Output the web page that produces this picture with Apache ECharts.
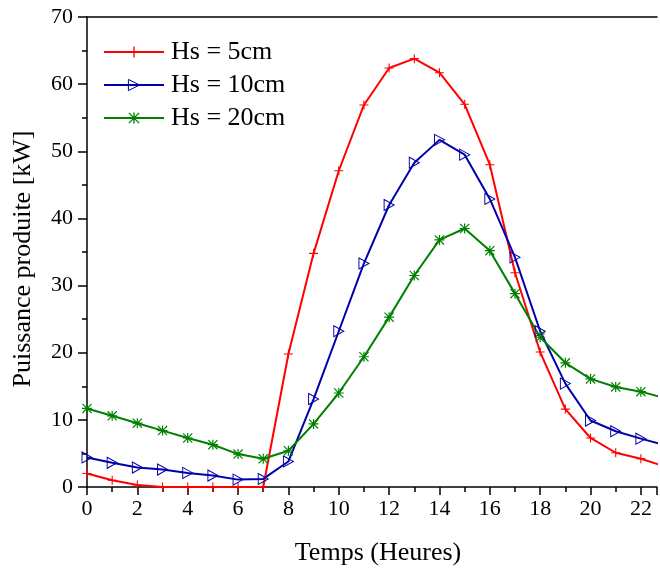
<!DOCTYPE html>
<html>
<head>
<meta charset="utf-8">
<script src="https://cdn.jsdelivr.net/npm/echarts@6/dist/echarts.min.js"></script>
<style>
  html, body { margin: 0; padding: 0; background: #fff; }
  #chart { width: 660px; height: 571px; }
</style>
</head>
<body>
<div id="chart"></div>
<script>
// heures
const hours = [0, 1, 2, 3, 4, 5, 6, 7, 8, 9, 10, 11, 12, 13, 14, 15, 16, 17, 18, 19, 20, 21, 22, 23]
// puissance produite [kW]
const hs5 = [2.0, 1.0, 0.3, 0, 0, 0, 0, 0, 19.8, 34.8, 47.1, 56.9, 62.4, 63.8, 61.7, 57.0, 48.0, 31.9, 20.1, 11.6, 7.3, 5.1, 4.2, 3.0]
const hs10 = [4.4, 3.6, 2.9, 2.6, 2.1, 1.7, 1.1, 1.2, 3.8, 13.1, 23.2, 33.3, 42.0, 48.3, 51.7, 49.5, 42.9, 34.2, 23.2, 15.4, 9.9, 8.3, 7.2, 6.2]
const hs20 = [11.7, 10.6, 9.5, 8.4, 7.3, 6.3, 4.9, 4.2, 5.4, 9.4, 14.0, 19.4, 25.3, 31.5, 36.8, 38.5, 35.2, 28.8, 22.3, 18.5, 16.1, 14.9, 14.2, 13.2]
const names = ['Hs = 5cm', 'Hs = 10cm', 'Hs = 20cm']

const FONT = 'Liberation Serif'
const plus = 'path://M4.4,0H5.6V4.4H10V5.6H5.6V10H4.4V5.6H0V4.4H4.4Z'
const star = 'path://M4.4,0H5.6V10H4.4Z M0,4.4H10V5.6H0Z M0,0.85L0.85,0L10,9.15L9.15,10Z M10,0.85L0.85,10L0,9.15L9.15,0Z'
const tri = 'path://M0,0L10,5L0,10Z'
const colors = ['#ff0000', '#0000aa', '#008000']
const hollow = { color: 'rgba(0,0,0,0)', borderColor: colors[1], borderWidth: 1 }

function pairs (ys) {
  return hours.map((h, i) => [h, ys[i]])
}

function mkSeries (name, ys, color, symbol, size, isHollow) {
  return {
    name: name,
    type: 'line',
    data: pairs(ys),
    symbol: symbol,
    symbolSize: size,
    showAllSymbol: true,
    lineStyle: { color: color, width: 2 },
    itemStyle: isHollow ? hollow : { color: color, borderWidth: 0 },
    emphasis: { disabled: true },
    animation: false
  }
}

let myChart = echarts.init(document.getElementById('chart'))
let option = {
  backgroundColor: '#fff',
  grid: { left: 87, right: 0, top: 17, bottom: 81 },
  legend: {
    data: [
      { name: names[0] },
      { name: names[1], itemStyle: hollow },
      { name: names[2] }
    ],
    orient: 'vertical',
    left: 103,
    top: 37,
    padding: 0,
    itemWidth: 60,
    itemHeight: 14,
    itemGap: 3,
    textStyle: { fontFamily: FONT, fontSize: 26, color: '#000', lineHeight: 30, padding: [0, 0, 0, 2] }
  },
  xAxis: [{
    type: 'value',
    min: 0,
    max: 22.64,
    interval: 2,
    name: 'Temps (Heures)',
    nameLocation: 'middle',
    nameGap: 53,
    nameTextStyle: { fontFamily: FONT, fontSize: 26, color: '#000', padding: [0, 0, 0, 12] },
    axisLine: { onZero: false, lineStyle: { color: '#000', width: 1.5 } },
    axisTick: { length: 8, lineStyle: { color: '#000', width: 1.5 } },
    minorTick: { show: true, splitNumber: 2, length: 5, lineStyle: { color: '#000', width: 1.5 } },
    axisLabel: {
      fontFamily: FONT, fontSize: 22, color: '#000', margin: 11,
      formatter: v => (Math.abs(v % 2) < 1e-6 ? String(v) : '')
    },
    splitLine: { show: false }
  }, {
    type: 'value',
    position: 'top',
    min: 0,
    max: 22.64,
    axisLine: { show: true, onZero: false, lineStyle: { color: '#000', width: 1.5 } },
    axisTick: { show: false },
    axisLabel: { show: false },
    splitLine: { show: false }
  }],
  yAxis: {
    type: 'value',
    min: 0,
    max: 70,
    interval: 10,
    name: 'Puissance produite [kW]',
    nameLocation: 'middle',
    nameGap: 51,
    nameTextStyle: { fontFamily: FONT, fontSize: 26, color: '#000', padding: [0, 14, 0, 0] },
    axisLine: { show: true, onZero: false, lineStyle: { color: '#000', width: 1.5 } },
    axisTick: { length: 9, lineStyle: { color: '#000', width: 1.5 } },
    minorTick: { show: true, splitNumber: 2, length: 5, lineStyle: { color: '#000', width: 1.5 } },
    axisLabel: { fontFamily: FONT, fontSize: 22, color: '#000', margin: 14 },
    splitLine: { show: false }
  },
  series: [
    mkSeries(names[0], hs5, colors[0], plus, 9, false),
    mkSeries(names[1], hs10, colors[1], tri, [10, 11], true),
    mkSeries(names[2], hs20, colors[2], star, 10, false)
  ]
}
myChart.setOption(option)
</script>
</body>
</html>
